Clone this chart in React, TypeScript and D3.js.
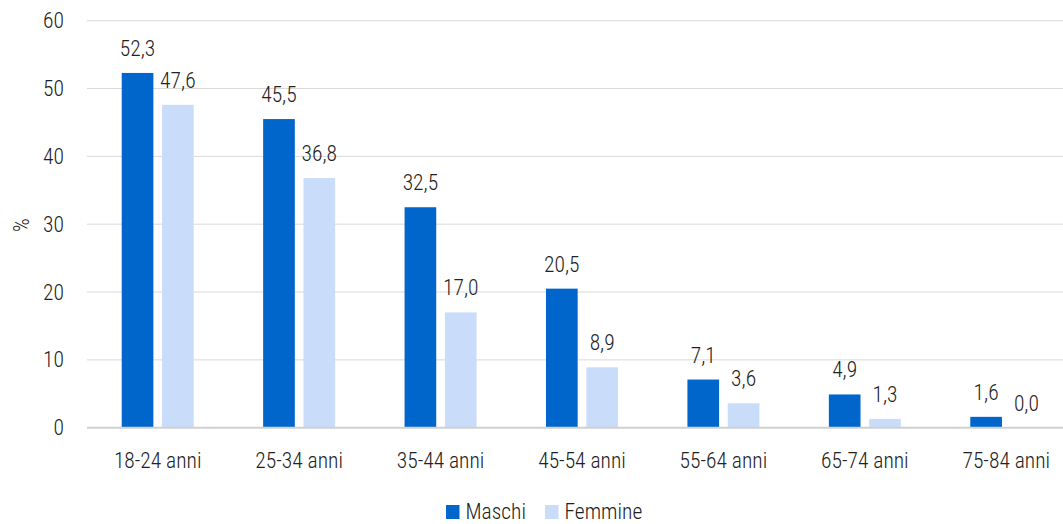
import React from "react";
import * as d3 from "d3";

const categories = ["18-24 anni", "25-34 anni", "35-44 anni", "45-54 anni", "55-64 anni", "65-74 anni", "75-84 anni"];
const seriesNames = ["Maschi", "Femmine"];
const maschi = [52.3, 45.5, 32.5, 20.5, 7.1, 4.9, 1.6];
const femmine = [47.6, 36.8, 17.0, 8.9, 3.6, 1.3, 0.0];
const yTicks = [0, 10, 20, 30, 40, 50, 60];
const colors = ["#0066CC", "#C9DCFA"];

const W = 1063;
const H = 524;
const FONT = "'Roboto Condensed', 'Liberation Sans Narrow', 'Arial Narrow', Roboto, sans-serif";

export default function App() {
  const x0 = d3.scaleBand<string>().domain(categories).range([87, 1077]).paddingInner(0).paddingOuter(0);
  const bw = x0.bandwidth();
  const x1 = d3.scaleBand<string>().domain(seriesNames).range([bw / 2 - 36, bw / 2 + 36]).paddingInner(0.215).paddingOuter(0);
  const y = d3.scaleLinear().domain([0, 60]).range([427.7, 20.7]);
  const data = [maschi, femmine];
  const fmt = (v: number) => v.toFixed(1).replace(".", ",");
  const fs = 21.5;

  return (
    <svg width={W} height={H} style={{ position: "absolute", left: 0, top: 0, background: "#fff" }} fontFamily={FONT} fontWeight={300}>
      <rect x={0} y={0} width={W} height={H} fill="#fff" />
      {yTicks.map((t) => (
        <g key={t}>
          {t !== 0 && <line x1={87} x2={W} y1={y(t)} y2={y(t)} stroke="#d9d9d9" strokeWidth={1} />}
          <text x={64} y={y(t)} dy="0.35em" textAnchor="end" fontSize={fs} fill="#222">{t}</text>
        </g>
      ))}
      {categories.map((c, i) => (
        <g key={c} transform={`translate(${x0(c)},0)`}>
          {seriesNames.map((s, j) => {
            const v = data[j][i];
            const bx = x1(s)!;
            const w = x1.bandwidth();
            return (
              <g key={s}>
                <rect x={bx} y={y(v)} width={w} height={y(0) - y(v)} fill={colors[j]} />
                <text x={bx + w / 2} y={y(v) - 17} textAnchor="middle" fontSize={fs} fill="#222">{fmt(v)}</text>
              </g>
            );
          })}
          <text x={bw / 2} y={467.5} textAnchor="middle" fontSize={fs} fill="#222">{c}</text>
        </g>
      ))}
      <line x1={87} x2={W} y1={y(0)} y2={y(0)} stroke="#d0d0d0" strokeWidth={2} />
      <text transform={`translate(29,${225}) rotate(-90)`} textAnchor="middle" fontSize={fs} fill="#222">%</text>
      {seriesNames.map((s, j) => {
        const lx = [446, 545][j];
        return (
          <g key={s}>
            <rect x={lx} y={505} width={13.5} height={14} fill={colors[j]} />
            <text x={lx + 19.5} y={519} fontSize={fs} fill="#222">{s}</text>
          </g>
        );
      })}
    </svg>
  );
}
